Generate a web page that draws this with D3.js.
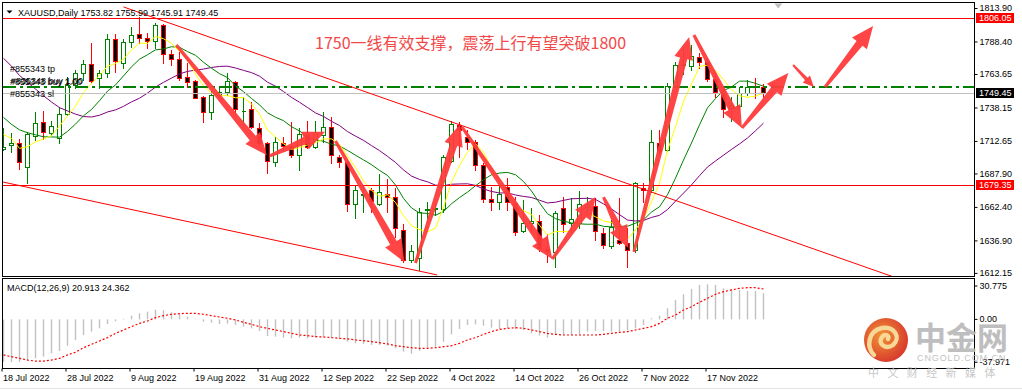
<!DOCTYPE html>
<html>
<head>
<meta charset="utf-8">
<script src="https://cdn.jsdelivr.net/npm/d3@7"></script>
<style>
  body { margin: 0; background: #fff; overflow: hidden; }
  svg { display: block; }
  text { font-family: Tahoma, "Liberation Sans", Arial, sans-serif; font-size: 9px; fill: #000; }
</style>
</head>
<body>
<script>
// XAUUSD Daily, 18 Jul 2022 - 28 Nov 2022 (one entry per bar)
const opens = [1706.5,1709.6,1710.9,1693.0,1716.6,1726.8,1718.5,1715.1,1732.9,1755.3,
  1764.2,1771.0,1760.4,1764.2,1790.3,1772.2,1787.8,1793.9,1790.8,1788.8,
  1801.0,1778.6,1775.1,1761.1,1758.3,1746.4,1734.9,1747.6,1750.2,1757.3,
  1735.5,1737.0,1722.3,1710.9,1696.4,1710.9,1709.0,1702.0,1717.2,1708.3,
  1717.2,1723.5,1700.6,1696.8,1664.4,1671.5,1675.3,1664.4,1672.0,1670.2,
  1644.8,1622.0,1623.3,1660.1,1660.8,1660.8,1697.4,1724.8,1715.9,1711.6,
  1694.3,1668.4,1666.4,1677.8,1665.2,1644.1,1650.4,1651.7,1630.5,1628.3,
  1661.4,1650.4,1650.0,1662.0,1663.0,1642.3,1633.0,1637.2,1634.7,1629.6,
  1676.6,1675.3,1710.9,1705.8,1754.0,1770.5,1769.5,1776.8,1773.0,1759.5,
  1749.7,1737.5,1739.5,1749.0,1754.5,1753.82];
const highs = [1722.3,1718.5,1714.1,1719.2,1734.9,1735.5,1727.8,1738.7,1761.6,1766.7,
  1774.3,1787.0,1766.7,1793.9,1793.9,1790.3,1799.7,1807.3,1794.6,1802.3,
  1801.5,1781.9,1780.6,1771.8,1759.0,1746.8,1751.5,1754.0,1764.2,1758.3,
  1746.4,1742.5,1726.1,1711.5,1715.9,1715.9,1726.8,1722.3,1727.8,1727.8,
  1734.5,1731.1,1702.0,1697.2,1679.1,1679.1,1676.6,1687.2,1683.7,1676.6,
  1649.2,1633.4,1661.8,1666.4,1665.4,1702.0,1727.8,1727.3,1721.0,1713.4,
  1695.6,1677.8,1679.1,1684.2,1670.2,1668.0,1661.3,1656.3,1641.8,1659.0,
  1670.2,1669.0,1674.5,1670.0,1669.4,1646.1,1652.4,1669.0,1646.1,1681.6,
  1680.4,1721.0,1721.0,1756.6,1773.0,1786.0,1785.7,1779.4,1775.6,1764.2,
  1754.0,1746.0,1754.0,1759.1,1760.8,1755.99];
const lows = [1705.8,1704.5,1691.3,1680.4,1713.4,1714.1,1717.2,1710.9,1732.4,1752.7,
  1759.1,1757.8,1752.7,1761.6,1764.9,1768.0,1784.4,1787.0,1783.2,1783.2,
  1771.8,1770.5,1759.1,1754.0,1745.1,1726.8,1729.4,1746.4,1747.6,1732.9,
  1724.8,1722.3,1709.6,1688.0,1693.8,1705.8,1700.6,1690.5,1707.0,1707.5,
  1712.1,1695.6,1693.0,1659.3,1653.7,1658.8,1658.8,1664.0,1658.8,1639.7,
  1620.7,1620.7,1614.4,1651.2,1656.3,1658.3,1696.9,1700.6,1706.5,1690.5,
  1666.4,1660.1,1660.8,1660.1,1641.0,1643.5,1643.5,1628.8,1620.5,1617.0,
  1643.5,1643.5,1646.0,1657.0,1637.2,1631.3,1631.3,1634.0,1616.9,1628.3,
  1666.4,1673.5,1703.0,1705.0,1752.7,1764.0,1766.7,1768.0,1758.5,1746.4,
  1731.1,1728.0,1736.2,1747.6,1745.1,1745.91];
const closes = [1708.3,1711.1,1696.4,1717.9,1726.1,1719.2,1724.0,1732.9,1755.3,1764.2,
  1771.0,1758.5,1764.2,1790.3,1773.8,1787.8,1793.3,1790.8,1788.8,1801.0,
  1778.6,1775.1,1760.4,1757.3,1745.6,1734.9,1747.6,1749.7,1758.3,1737.0,
  1735.8,1723.5,1710.9,1697.4,1711.6,1709.0,1702.0,1717.7,1708.3,1719.7,
  1723.5,1702.0,1696.4,1664.4,1675.3,1672.2,1666.9,1673.5,1670.2,1646.1,
  1622.0,1628.8,1658.8,1660.8,1661.6,1700.6,1725.3,1721.0,1711.6,1694.3,
  1668.4,1666.4,1672.0,1665.9,1643.5,1650.0,1651.7,1630.9,1628.5,1657.5,
  1649.4,1653.0,1664.4,1663.5,1644.0,1633.4,1647.3,1634.7,1629.6,1680.4,
  1675.3,1712.1,1705.0,1754.7,1770.5,1771.5,1777.6,1772.5,1759.8,1749.7,
  1737.0,1740.0,1748.9,1754.0,1754.0,1749.45];

// moving averages (yellow 5, green 10, purple 20)
const ma5 = [1717.5,1714.7,1707.0,1708.3,1712.0,1714.1,1716.7,1724.0,1731.5,1739.1,
  1749.5,1756.4,1762.6,1769.6,1771.6,1774.9,1781.9,1787.2,1786.9,1792.3,
  1790.5,1786.9,1780.8,1774.5,1763.4,1754.7,1749.2,1747.0,1747.2,1745.5,
  1745.7,1740.9,1733.1,1720.9,1715.8,1710.5,1706.2,1707.5,1709.7,1711.3,
  1714.2,1714.2,1710.0,1701.2,1692.3,1682.1,1675.0,1670.5,1671.6,1665.8,
  1655.7,1648.1,1645.2,1643.3,1646.4,1662.1,1681.4,1693.9,1704.0,1710.6,
  1704.1,1692.3,1682.5,1673.4,1663.2,1659.6,1656.6,1648.4,1640.9,1643.7,
  1643.6,1643.9,1650.6,1657.6,1654.9,1651.7,1650.5,1644.6,1637.8,1645.1,
  1653.5,1666.4,1680.5,1705.5,1723.5,1742.8,1755.9,1769.4,1770.4,1766.2,
  1759.3,1751.8,1747.1,1745.9,1746.8,1749.3];
const ma10 = [1730.6,1725.3,1721.1,1718.9,1717.3,1715.8,1715.7,1715.5,1719.9,1725.5,
  1731.8,1736.6,1743.3,1750.6,1755.3,1762.2,1769.1,1774.9,1778.3,1782.0,
  1782.7,1784.4,1784.0,1780.7,1777.9,1772.6,1768.0,1763.9,1760.9,1754.5,
  1750.2,1745.0,1740.1,1734.1,1730.7,1728.1,1723.5,1720.3,1715.3,1713.6,
  1712.4,1710.2,1708.8,1705.5,1701.8,1698.2,1694.6,1690.2,1686.4,1679.1,
  1668.9,1661.6,1657.8,1657.5,1656.1,1658.9,1664.8,1669.5,1673.7,1678.5,
  1683.1,1686.9,1688.2,1688.7,1686.9,1681.8,1674.5,1665.5,1657.2,1653.5,
  1651.6,1650.2,1649.5,1649.2,1649.3,1647.6,1647.2,1647.6,1647.7,1650.0,
  1652.6,1658.5,1662.5,1671.7,1684.3,1698.1,1711.1,1724.9,1737.9,1744.9,
  1751.0,1753.8,1758.2,1758.2,1756.5,1754.3];
const ma20 = [1775.6,1769.6,1762.5,1757.3,1752.2,1747.1,1742.3,1738.0,1735.5,1733.1,
  1731.2,1730.9,1732.2,1734.7,1736.3,1739.0,1742.4,1745.2,1749.1,1753.7,
  1757.3,1760.5,1763.7,1765.6,1766.6,1767.4,1768.6,1769.4,1769.6,1768.2,
  1766.4,1764.7,1762.0,1757.4,1754.3,1750.3,1745.8,1742.1,1738.1,1734.0,
  1731.3,1727.6,1724.4,1719.8,1716.3,1713.1,1709.1,1705.3,1700.9,1696.3,
  1690.6,1685.9,1683.3,1681.5,1679.0,1678.5,1679.7,1679.9,1680.0,1678.8,
  1676.0,1674.2,1673.0,1673.1,1671.5,1670.4,1669.6,1667.5,1665.4,1666.0,
  1667.4,1668.6,1668.8,1669.0,1668.1,1664.7,1660.8,1656.5,1652.4,1651.7,
  1652.1,1654.4,1656.0,1660.4,1666.8,1672.9,1679.2,1686.2,1692.8,1697.4,
  1701.8,1706.2,1710.4,1714.9,1720.4,1726.2];

// MACD(12,26,9): main (histogram) and signal (dotted)
const macdMain = [-34.0,-34.4,-34.2,-32.6,-31.2,-29.9,-27.2,-25.3,-21.1,-16.5,
  -12.5,-9.8,-7.2,-3.7,-1.5,0.5,3.0,4.9,6.2,7.8,
  7.3,5.7,4.1,2.2,0.3,-1.8,-2.6,-3.7,-3.4,-4.5,
  -5.8,-7.2,-9.3,-13.3,-13.8,-14.6,-15.2,-14.6,-15.2,-14.6,
  -14.1,-14.6,-15.2,-17.9,-19.2,-19.7,-20.5,-20.5,-21.1,-23.2,
  -25.9,-27.5,-25.3,-23.2,-21.9,-17.9,-12.0,-7.7,-4.5,-4.0,
  -5.0,-6.6,-7.7,-7.2,-7.7,-8.5,-11.2,-13.0,-14.6,-12.5,
  -12.0,-12.5,-12.0,-9.8,-9.3,-9.3,-9.8,-9.8,-8.5,-7.2,
  -4.5,0.9,3.0,8.9,15.6,20.1,24.4,27.6,28.1,27.6,
  24.9,24.4,23.6,22.8,22.8,20.913];
const macdSignal = [-28.5,-29.9,-31.2,-32.6,-33.4,-33.4,-32.6,-31.2,-28.5,-26.4,
  -22.7,-20.0,-17.3,-14.6,-11.2,-8.5,-5.8,-3.2,-1.3,1.4,
  3.0,4.1,4.6,4.9,4.9,4.1,3.0,1.9,0.9,-0.5,
  -2.3,-4.0,-5.8,-7.2,-8.5,-9.8,-11.2,-12.5,-13.0,-13.8,
  -14.1,-14.6,-15.2,-15.7,-16.5,-17.1,-17.9,-18.7,-19.7,-21.1,
  -21.9,-22.7,-23.2,-23.2,-22.7,-21.9,-21.1,-19.2,-16.5,-14.6,
  -12.0,-9.8,-8.0,-7.2,-6.6,-7.2,-8.5,-9.8,-11.2,-12.0,
  -12.5,-12.5,-12.5,-12.5,-12.5,-12.0,-11.2,-10.4,-9.8,-8.5,
  -7.2,-5.8,-3.2,0.9,3.5,7.5,10.2,13.7,16.9,20.1,
  22.2,23.6,24.9,25.4,25.4,24.362];

// axes
const priceTicks = [1813.90, 1788.40, 1763.65, 1738.15, 1712.65, 1687.90, 1662.40, 1636.90, 1612.15];
const macdTicks = [30.775, 0, -37.971];
const macdTickLabels = ['30.775', '0.00', '-37.971'];
const dateTickBars = [0, 8, 16, 24, 32, 40, 48, 56, 64, 72, 80, 88];
const dateTickLabels = ['18 Jul 2022', '28 Jul 2022', '9 Aug 2022', '19 Aug 2022', '31 Aug 2022', '12 Sep 2022',
  '22 Sep 2022', '4 Oct 2022', '14 Oct 2022', '26 Oct 2022', '7 Nov 2022', '17 Nov 2022'];

// objects on the chart
const redLevels = [1806.05, 1679.35];
const bidPrice = 1749.45;
const orderPrice = 1753.82;
const orderLabels = ['#855343 tp', '#855343 buy 1.00', '#855343 sl'];
const orderLabelPrices = [1767.5, 1757.6, 1748.3];
const trendFrom = [[15.0, 1814.7], [-0.1, 1681.4]];
const trendTo = [[111.3, 1609.0], [54.2, 1610.6]];
const arrowFrom = [[21.6, 1785.7], [33.3, 1701.2], [41.5, 1712.6], [51.5, 1619.7], [57.3, 1723.3], [68.6, 1622.7],
  [75.0, 1669.9], [78.8, 1628.1], [86.3, 1793.3], [92.3, 1722.5], [98.7, 1770.5], [102.7, 1753.7]];
const arrowTo = [[32.9, 1701.9], [40.2, 1719.7], [50.1, 1620.5], [57.1, 1725.6], [68.6, 1622.7], [74.0, 1669.9],
  [78.1, 1631.1], [85.7, 1791.8], [92.3, 1722.5], [98.1, 1764.4], [101.3, 1753.7], [108.7, 1800.2]];
const note = '1750一线有效支撑，震荡上行有望突破1800';

const up = '#008000', down = '#ff0000';

const svg = d3.select('body').append('svg').attr('width', 1022).attr('height', 390);

const x = d3.scaleLinear().domain([0, 120]).range([3.5, 963.5]);
const y = d3.scaleLinear().domain([1612.15, 1813.90]).range([272.9, 8.0]);
const ym = d3.scaleLinear().domain([-37.971, 30.775]).range([366.75, 281.0]);
const py = v => Math.round(y(v)) + 0.5;

const defs = svg.append('defs');
defs.append('clipPath').attr('id', 'cm').append('rect').attr('x', 3).attr('y', 3).attr('width', 971).attr('height', 273);
defs.append('clipPath').attr('id', 'cs').append('rect').attr('x', 3).attr('y', 279).attr('width', 971).attr('height', 89);

// frames
svg.append('rect').attr('x', 2.5).attr('y', 2.5).attr('width', 972).attr('height', 274)
  .attr('fill', 'none').attr('stroke', '#000').attr('shape-rendering', 'crispEdges');
svg.append('rect').attr('x', 2.5).attr('y', 278.5).attr('width', 972).attr('height', 90)
  .attr('fill', 'none').attr('stroke', '#000').attr('shape-rendering', 'crispEdges');
svg.append('line').attr('x1', 0).attr('x2', 1022).attr('y1', 388.5).attr('y2', 388.5).attr('stroke', '#e3e3e3');

const gMain = svg.append('g').attr('clip-path', 'url(#cm)');
const bars = d3.range(closes.length);

// candles
const gC = gMain.append('g').attr('shape-rendering', 'crispEdges');
gC.selectAll('line').data(bars).join('line')
  .attr('x1', i => x(i)).attr('x2', i => x(i))
  .attr('y1', i => py(highs[i]) - 0.5).attr('y2', i => py(lows[i]) + 0.5)
  .attr('stroke', i => closes[i] >= opens[i] ? up : down);
gC.selectAll('path').data(bars).join('path')
  .attr('d', i => {
    const t = py(Math.max(opens[i], closes[i])), b = py(Math.min(opens[i], closes[i]));
    return `M${x(i) - 2},${t}H${x(i) + 2}V${b}H${x(i) - 2}Z`;
  })
  .attr('fill', i => closes[i] >= opens[i] ? '#fff' : '#000')
  .attr('stroke', i => closes[i] >= opens[i] ? up : down);

// moving averages
const maLine = d3.line().x((d, i) => x(i)).y(d => y(d));
[[ma20, '#800080'], [ma10, '#008000'], [ma5, '#ffff00']].forEach(([s, c]) => {
  gMain.append('path').attr('d', maLine(s)).attr('fill', 'none').attr('stroke', c).attr('stroke-width', 1);
});

// horizontal lines
gMain.append('line').attr('x1', 3).attr('x2', 974).attr('y1', py(bidPrice)).attr('y2', py(bidPrice))
  .attr('stroke', '#c0c0c0').attr('shape-rendering', 'crispEdges');
gMain.append('line').attr('x1', 3).attr('x2', 974).attr('y1', Math.round(y(orderPrice))).attr('y2', Math.round(y(orderPrice)))
  .attr('stroke', '#008000').attr('stroke-width', 2).attr('stroke-dasharray', '13,4,3,4');
gMain.selectAll('line.lv').data(redLevels).join('line').attr('class', 'lv')
  .attr('x1', 3).attr('x2', 974).attr('y1', d => py(d)).attr('y2', d => py(d))
  .attr('stroke', '#ff0000').attr('shape-rendering', 'crispEdges');

// trend lines
gMain.selectAll('line.tl').data(trendFrom).join('line').attr('class', 'tl')
  .attr('x1', d => x(d[0])).attr('y1', d => y(d[1]))
  .attr('x2', (d, i) => x(trendTo[i][0])).attr('y2', (d, i) => y(trendTo[i][1]))
  .attr('stroke', '#ff0000').attr('stroke-width', 1);

// order labels
orderLabels.forEach((t, i) => {
  gMain.append('text').attr('x', 10).attr('y', y(orderLabelPrices[i])).attr('dy', '0.35em').attr('fill', '#222').text(t);
});
gMain.append('text').attr('x', 11).attr('y', y(orderLabelPrices[1]) - 0.6).attr('dy', '0.35em').attr('fill', '#222').text('#835348 buy 1.00');

// annotation arrows
function arrowPath(a, b, small) {
  const x0 = x(a[0]), y0 = y(a[1]), x1 = x(b[0]), y1 = y(b[1]);
  const L = Math.hypot(x1 - x0, y1 - y0), ux = (x1 - x0) / L, uy = (y1 - y0) / L, nx = -uy, ny = ux;
  const w0 = small ? 1 : 1.5, w1 = small ? 1.8 : 3.8, hw = small ? 5 : 9.5, hl = small ? 11 : 22;
  const bx = x1 - ux * hl, by = y1 - uy * hl;
  const p = [[x0 + nx * w0, y0 + ny * w0], [bx + nx * w1, by + ny * w1], [bx + nx * hw, by + ny * hw], [x1, y1],
    [bx - nx * hw, by - ny * hw], [bx - nx * w1, by - ny * w1], [x0 - nx * w0, y0 - ny * w0]];
  return 'M' + p.map(q => q.join(',')).join('L') + 'Z';
}
gMain.selectAll('path.arw').data(arrowFrom).join('path').attr('class', 'arw')
  .attr('d', (d, i) => arrowPath(d, arrowTo[i], i === 10))
  .attr('fill', '#ff3b3b').attr('fill-opacity', 0.95);

gMain.append('text').attr('x', x(38.95)).attr('y', y(1787.2)).attr('dy', '0.35em')
  .style('font-family', '"Noto Sans CJK SC", sans-serif').style('font-size', '16px')
  .attr('fill', '#f24848').style('fill', '#f24848').text(note);

// chart shift marker and header
svg.append('path').attr('d', `M${x(96.85) - 4},3.5H${x(96.85) + 4}L${x(96.85)},8.5Z`).attr('fill', '#c0c0c0');
svg.append('path').attr('d', 'M6.5,10.5H12.5L9.5,13.5Z').attr('fill', '#000');
svg.append('text').attr('x', 18).attr('y', 15.5).text('XAUUSD,Daily  1753.82 1755.99 1745.91 1749.45');

// price axis
const axY = svg.append('g').attr('transform', 'translate(974.5,0)')
  .call(d3.axisRight(y).tickValues(priceTicks).tickSize(3).tickPadding(2).tickFormat(d3.format('.2f')));
axY.select('.domain').remove();
axY.selectAll('text').style('font-size', '9px');

// price boxes on axis
const boxes = [[redLevels[0], '#ff0000'], [bidPrice, '#000'], [redLevels[1], '#ff0000']];
boxes.forEach(([v, c]) => {
  const yy = Math.round(y(v));
  svg.append('rect').attr('x', 976).attr('y', yy - 5).attr('width', 38).attr('height', 10).attr('fill', c);
  svg.append('text').attr('x', 979).attr('y', yy).attr('dy', '0.35em').style('fill', '#fff').text(d3.format('.2f')(v));
});

// MACD panel
const gSub = svg.append('g').attr('clip-path', 'url(#cs)');
gSub.selectAll('line').data(bars).join('line')
  .attr('x1', i => x(i)).attr('x2', i => x(i))
  .attr('y1', ym(0)).attr('y2', i => ym(macdMain[i]))
  .attr('stroke', '#c0c0c0').attr('stroke-width', 1.4);
gSub.append('path').attr('d', d3.line().x((d, i) => x(i)).y(d => ym(d))(macdSignal))
  .attr('fill', 'none').attr('stroke', '#ff0000').attr('stroke-width', 1.2).attr('stroke-dasharray', '2,2');
svg.append('text').attr('x', 7).attr('y', 288).attr('dy', '0.35em').text('MACD(12,26,9) 20.913 24.362');

const axM = svg.append('g').attr('transform', 'translate(974.5,0)')
  .call(d3.axisRight(ym).tickValues(macdTicks).tickSize(3).tickPadding(2).tickFormat((d, i) => macdTickLabels[i]));
axM.select('.domain').remove();
axM.selectAll('.tick').attr('transform', (d, i) => `translate(0,${ym(d) + [5, 0, -4.5][i]})`);

// date axis
const axX = svg.append('g').attr('transform', 'translate(-2,368.5)')
  .call(d3.axisBottom(x).tickValues(dateTickBars).tickSize(3).tickPadding(3).tickFormat((d, i) => dateTickLabels[i]));
axX.select('.domain').remove();
axX.selectAll('text').attr('text-anchor', 'start').attr('dx', 1);

// watermark
const wm = svg.append('g').attr('opacity', 0.92);
const grad = defs.append('radialGradient').attr('id', 'lg').attr('cx', '40%').attr('cy', '40%').attr('r', '65%');
grad.append('stop').attr('offset', '0%').attr('stop-color', '#f08a24');
grad.append('stop').attr('offset', '100%').attr('stop-color', '#d4261c');
wm.append('circle').attr('cx', 886).attr('cy', 340).attr('r', 22).attr('fill', 'url(#lg)');
wm.append('path').attr('d', 'M874,355C866,347,868,331,882,328C895,326,901,338,893,345C886,350,877,344,882,337C885,333,890,336,888,339')
  .attr('fill', 'none').attr('stroke', '#f8d58e').attr('stroke-width', 4.5).attr('stroke-linecap', 'round');
wm.append('text').attr('x', 915).attr('y', 349).style('font-family', '"Noto Sans CJK SC", sans-serif')
  .style('font-size', '31px').style('font-weight', 'bold').style('fill', '#b9b9b9').text('中金网');
wm.append('text').attr('x', 917).attr('y', 361).style('font-size', '9px').style('letter-spacing', '0.9px')
  .style('fill', '#bdbdbd').text('CNGOLD.COM.CN');
wm.append('text').attr('x', 868).attr('y', 377).style('font-family', '"Noto Sans CJK SC", sans-serif')
  .style('font-size', '11px').style('letter-spacing', '8.4px').style('fill', '#c4c4c4').text('中文财经新媒体');
</script>
</body>
</html>
